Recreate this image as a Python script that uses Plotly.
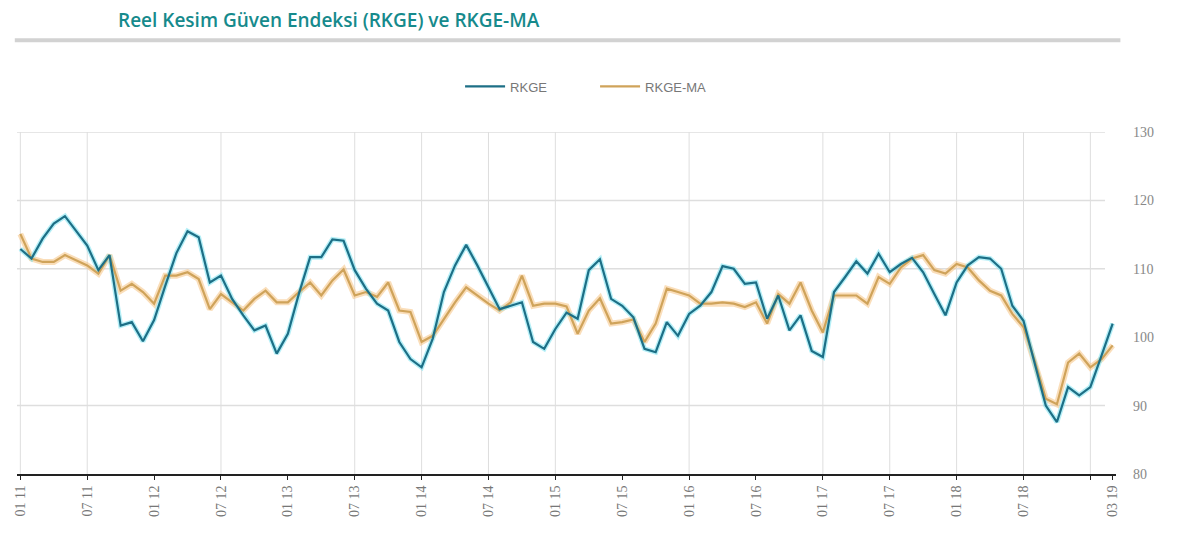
import plotly.graph_objects as go

# Monthly index: 0 = 01/2011 ... 98 = 03/2019
months = list(range(99))

rkge = [112.9, 111.5, 114.4, 116.6, 117.7, 115.6, 113.4, 109.8, 112.0, 101.7,
        102.2, 99.4, 102.5, 107.5, 112.3, 115.5, 114.6, 108.0, 109.0, 105.6,
        103.2, 101.0, 101.7, 97.6, 100.5, 106.4, 111.7, 111.7, 114.3, 114.1,
        109.8, 107.1, 104.9, 103.9, 99.3, 96.8, 95.6, 99.8, 106.6, 110.5,
        113.5, 110.5, 107.3, 104.1, 104.6, 105.1, 99.3, 98.3, 101.2, 103.6,
        102.7, 109.8, 111.4, 105.6, 104.6, 102.9, 98.3, 97.8, 102.2, 100.2,
        103.4, 104.6, 106.6, 110.4, 110.0, 107.8, 108.0, 102.7, 106.1, 101.0,
        103.2, 98.0, 97.1, 106.6, 108.8, 111.1, 109.3, 112.2, 109.5, 110.7,
        111.6, 109.5, 106.3, 103.2, 108.0, 110.5, 111.7, 111.5, 110.0, 104.6,
        102.4, 96.0, 90.0, 87.6, 92.7, 91.5, 92.7, 97.3, 102.0]

rkge_ma = [115.1, 111.5, 111.0, 111.0, 112.0, 111.2, 110.5, 109.3, 112.0, 106.8,
           107.8, 106.6, 104.9, 109.0, 109.0, 109.5, 108.5, 104.1, 106.3, 105.1,
           103.9, 105.6, 106.8, 105.1, 105.1, 106.6, 108.0, 106.1, 108.3, 109.9,
           106.1, 106.6, 105.9, 108.0, 103.9, 103.7, 99.3, 100.2, 102.7, 105.1,
           107.3, 106.1, 104.9, 103.9, 105.1, 109.0, 104.6, 104.9, 104.9, 104.5,
           100.5, 103.9, 105.7, 102.0, 102.2, 102.6, 99.3, 102.0, 107.1, 106.6,
           106.1, 104.9, 104.9, 105.1, 104.9, 104.4, 105.1, 102.0, 106.3, 104.9,
           108.0, 103.9, 100.7, 106.1, 106.1, 106.1, 104.9, 108.8, 107.8, 110.2,
           111.5, 112.0, 109.8, 109.3, 110.7, 110.2, 108.3, 106.8, 106.1, 103.4,
           101.5, 96.6, 91.0, 90.2, 96.3, 97.6, 95.6, 96.8, 98.8]

tick_vals = [0, 6, 12, 18, 24, 30, 36, 42, 48, 54, 60, 66, 72, 78, 84, 90, 96, 98]
tick_text = ["01 11", "07 11", "01 12", "07 12", "01 13", "07 13", "01 14", "07 14",
             "01 15", "07 15", "01 16", "07 16", "01 17", "07 17", "01 18", "07 18",
             "", "03 19"]
grid_x = [0, 6, 18, 30, 36, 42, 48, 60, 72, 78, 84, 90, 96]
grid_y = [90, 110, 120, 130]

TEAL = "#1d6f86"
GOLD = "#cfa35a"

fig = go.Figure()
fig.add_trace(go.Scatter(x=months, y=rkge_ma, mode="lines", showlegend=False, hoverinfo="skip",
                         line=dict(color="rgba(245,195,130,0.55)", width=6)))
fig.add_trace(go.Scatter(x=months, y=rkge, mode="lines", showlegend=False, hoverinfo="skip",
                         line=dict(color="rgba(120,225,240,0.55)", width=5)))
fig.add_trace(go.Scatter(x=months, y=rkge_ma, mode="lines", name="RKGE-MA",
                         line=dict(color=GOLD, width=2.2)))
fig.add_trace(go.Scatter(x=months, y=rkge, mode="lines", name="RKGE",
                         line=dict(color=TEAL, width=2.2)))

for gx in grid_x:
    fig.add_shape(type="line", xref="x", yref="paper", x0=gx, x1=gx, y0=0, y1=1,
                  line=dict(color="#dedede", width=1), layer="below")
for gy in grid_y:
    fig.add_shape(type="line", xref="paper", yref="y", x0=0, x1=0.99, y0=gy, y1=gy,
                  line=dict(color="#dedede", width=1.5), layer="below")

# separator under title
fig.add_shape(type="line", xref="paper", yref="paper", x0=-0.002, x1=1.004, y0=1.268, y1=1.268,
              line=dict(color="#d2d2d2", width=4))

fig.update_layout(
    width=1200, height=544,
    margin=dict(l=17, r=84, t=132, b=70),
    paper_bgcolor="white", plot_bgcolor="white",
    title=dict(text="Reel Kesim Güven Endeksi (RKGE) ve RKGE-MA",
               xref="container", yref="container", x=118 / 1200, xanchor="left",
               y=1 - 20 / 544, yanchor="middle",
               font=dict(family="Open Sans", size=19, color="#168a8c", weight=600)),
    legend=dict(orientation="h", x=0.526, xanchor="center", y=1.133, yanchor="middle",
                traceorder="reversed", font=dict(family="Liberation Sans", size=13, color="#777"),
                itemwidth=40, entrywidth=80),
    xaxis=dict(range=[-0.3, 98.3], tickmode="array", tickvals=tick_vals, ticktext=tick_text,
               tickangle=-90, showgrid=False, zeroline=False, showline=True,
               linecolor="#222", linewidth=2, ticks="outside", ticklen=4, tickcolor="#222",
               tickfont=dict(family="Liberation Serif", size=14, color="#777")),
    yaxis=dict(range=[80, 130], side="right", tickvals=[80, 90, 100, 110, 120, 130],
               showgrid=False, zeroline=False, showline=False, ticks="",
               ticklabelstandoff=16,
               tickfont=dict(family="Liberation Serif", size=14, color="#888")),
)

fig.write_html("out.html")
